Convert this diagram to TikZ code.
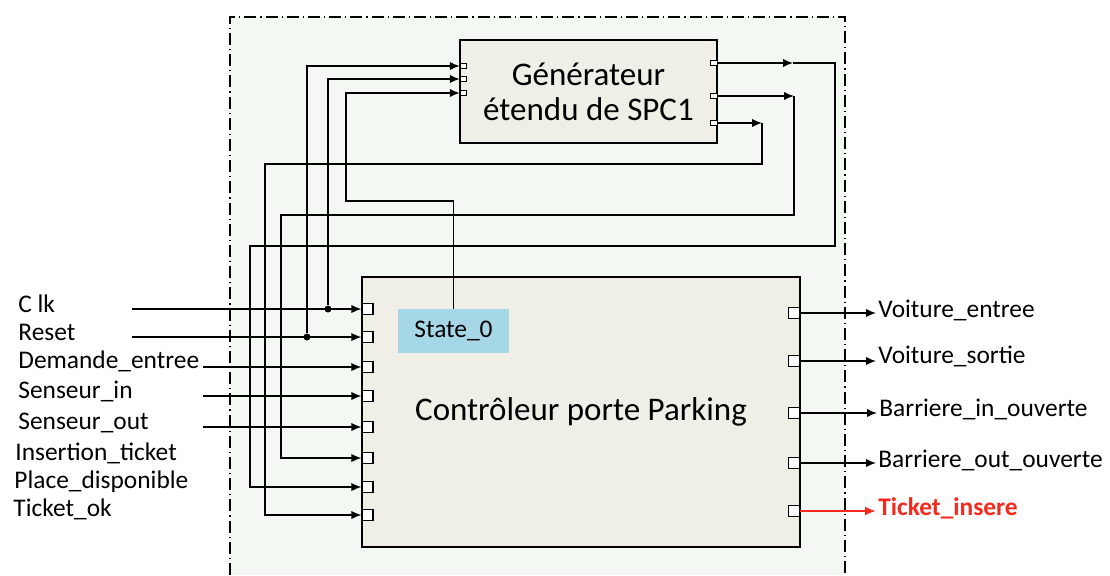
\documentclass[tikz,border=0pt]{standalone}
\usepackage{fontspec}
\setmainfont{Carlito}
\usetikzlibrary{arrows.meta,positioning,calc}

\definecolor{framegreen}{HTML}{F3F9F2}
\definecolor{boxgrey}{HTML}{EFEEE7}
\definecolor{stateblue}{HTML}{A6D7E6}
\definecolor{sigred}{HTML}{F52A1E}

\begin{document}
\begin{tikzpicture}[x=0.5pt,y=-0.5pt,>={Latex[length=5pt,width=4.2pt]},
  sig/.style={font=\fontsize{12.7}{15}\selectfont,inner sep=1pt},
  blk/.style={draw,fill=boxgrey,line width=0.7pt,align=center,font=\fontsize{16.5}{17.5}\selectfont},
  port/.style={draw,fill=white,line width=0.6pt,minimum width=5.5pt,minimum height=5.5pt,inner sep=0pt},
  gport/.style={draw,fill=white,line width=0.5pt,minimum width=3.2pt,minimum height=2.8pt,inner sep=0pt},
  wire/.style={line width=0.75pt},
  dot/.style={circle,fill,inner sep=0pt,minimum size=3.5pt}]
  \useasboundingbox (0,0) rectangle (1110,575);
  % frame
  \fill[framegreen] (230,17) rectangle (845,575);
  \draw[line width=0.55pt,dash pattern=on 6pt off 2pt on 0.6pt off 2pt] (230,575) -- (230,17) -- (845,17) -- (845,575);

  % blocks
  \node[blk,minimum width=128.5pt,minimum height=51.5pt] (gen) at (588.5,91.5) {Générateur\\étendu de SPC1};
  \node[blk,minimum width=219pt,minimum height=135pt] (ctrl) at (581,412) {Contrôleur porte Parking};
  \node[sig,fill=stateblue,minimum width=55.5pt,minimum height=22pt] (state) at (453.5,331) {State\_0};

  % ports
  \foreach \y [count=\i] in {309,337,367,396,427,458,487,515}
    \node[port] (in\i) at (367.5,\y) {};
  \foreach \y [count=\i] in {313,361,413,463,511}
    \node[port] (out\i) at (794,\y) {};
  \foreach \y [count=\i] in {66,79,93}
    \node[gport] (gi\i) at (463.5,\y) {};
  \foreach \y [count=\i] in {63,96,123}
    \node[gport] (go\i) at (714,\y) {};

  % input signals
  \node[sig,anchor=base west] (clk) at (16,312) {C lk};
  \node[sig,anchor=base west] (reset) at (16,340) {Reset};
  \node[sig,anchor=base west] (dem) at (16,368) {Demande\_entree};
  \node[sig,anchor=base west] (sin) at (16,398) {Senseur\_in};
  \node[sig,anchor=base west] (sout) at (16,429) {Senseur\_out};
  \node[sig,anchor=base west] (ins) at (13,460) {Insertion\_ticket};
  \node[sig,anchor=base west] (place) at (12,488) {Place\_disponible};
  \node[sig,anchor=base west] (tok) at (11,516) {Ticket\_ok};

  \coordinate (clkin) at (132,309);
  \coordinate (rstin) at (132,337);
  \coordinate (demin) at (203,367);
  \coordinate (sinin) at (203,396);
  \coordinate (soutin) at (203,427);
  \draw[wire,->] (clkin) -- (in1);
  \draw[wire,->] (rstin) -- (in2);
  \draw[wire,->] (demin) -- (in3);
  \draw[wire,->] (sinin) -- (in4);
  \draw[wire,->] (soutin) -- (in5);

  \node[dot] (dclk) at (328,309) {};
  \node[dot] (drst) at (307,337) {};

  % to the generator
  \draw[wire,->] (drst) |- (gi1);
  \draw[wire,->] (dclk) |- (gi2);
  \coordinate (stloop) at (346,201);
  \draw[wire,->] (state.north) |- (stloop) |- (gi3);

  % loops back from the generator
  \coordinate (a1) at (793,63);
  \coordinate (r1) at (835,246);
  \coordinate (l1) at (250,246);
  \draw[wire,->] (go1) -- (a1);
  \draw[wire,->] (a1) -| (r1) -- (l1) |- (in7);
  \coordinate (a2) at (794,96);
  \coordinate (l2) at (281,215);
  \draw[wire,->] (go2) -- (a2);
  \draw[wire,->] (a2) |- (l2) |- (in6);
  \coordinate (a3) at (762,123);
  \coordinate (l3) at (265,164);
  \draw[wire,->] (go3) -- (a3);
  \draw[wire,->] (a3) |- (l3) |- (in8);

  % outputs
  \node[sig,anchor=west] (ve) at (876,310) {Voiture\_entree};
  \node[sig,anchor=west] (vs) at (876,356) {Voiture\_sortie};
  \node[sig,anchor=west] (bin) at (877,409) {Barriere\_in\_ouverte};
  \node[sig,anchor=west] (bout) at (876,460) {Barriere\_out\_ouverte};
  \node[sig,anchor=west,text=sigred,font=\fontsize{12.7}{15}\selectfont\bfseries] (tins) at (876,508) {Ticket\_insere};
  \draw[wire,->] (out1) -- (out1 -| ve.west);
  \draw[wire,->] (out2) -- (out2 -| vs.west);
  \draw[wire,->] (out3) -- (out3 -| bin.west);
  \draw[wire,->] (out4) -- (out4 -| bout.west);
  \draw[line width=1.1pt,sigred,-{Latex[length=5.5pt,width=4.6pt]}] (out5) -- (out5 -| tins.west);
\end{tikzpicture}
\end{document}
